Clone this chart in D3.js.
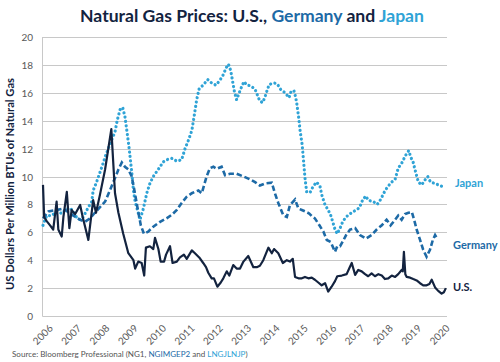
<!DOCTYPE html>
<html>
<head>
<meta charset="utf-8">
<script src="https://cdn.jsdelivr.net/npm/d3@7"></script>
<style>
  html, body { margin: 0; padding: 0; background: #fff; }
  svg { display: block; }
  text { font-family: Lato, "Noto Sans", sans-serif; }
</style>
</head>
<body>
<svg id="chart" width="500" height="362"></svg>
<script>
// ---------- DATA (year fraction, US$ per MMBtu) ----------
const yearTicks = [2006,2007,2008,2009,2010,2011,2012,2013,2014,2015,2016,2017,2018,2019,2020];
const yTicks = [0,2,4,6,8,10,12,14,16,18,20];

const usData = [
 [2006.00,9.4],[2006.04,7.1],[2006.13,6.8],[2006.25,6.5],[2006.36,6.2],[2006.48,8.2],[2006.54,6.2],
 [2006.66,5.7],[2006.72,7.1],[2006.84,8.9],[2006.93,6.3],[2007.01,7.6],[2007.13,7.3],[2007.31,7.96],
 [2007.40,7.1],[2007.60,5.45],[2007.77,8.3],[2007.87,7.4],[2008.01,8.7],[2008.19,10.5],[2008.41,13.4],
 [2008.54,8.8],[2008.66,7.4],[2008.83,5.9],[2009.01,4.5],[2009.19,4.0],[2009.25,3.4],[2009.36,3.9],
 [2009.48,3.8],[2009.57,2.9],[2009.63,4.9],[2009.77,5.0],[2009.89,4.8],[2009.95,5.6],[2010.07,4.8],
 [2010.15,3.9],[2010.27,3.9],[2010.34,4.4],[2010.48,5.0],[2010.57,3.8],[2010.72,3.9],[2010.83,4.2],
 [2010.97,4.4],[2011.07,4.1],[2011.25,4.7],[2011.36,4.5],[2011.51,4.2],[2011.65,3.8],[2011.75,3.5],
 [2011.83,3.1],[2011.95,2.7],[2012.03,2.7],[2012.15,2.1],[2012.27,2.4],[2012.36,2.7],[2012.48,3.2],
 [2012.57,2.9],[2012.71,3.65],[2012.83,3.4],[2012.95,3.4],[2013.07,3.9],[2013.24,4.3],[2013.42,3.5],
 [2013.54,3.5],[2013.65,3.6],[2013.77,4.0],[2013.95,4.9],[2014.07,4.5],[2014.15,4.8],[2014.30,4.5],
 [2014.46,3.8],[2014.60,4.0],[2014.71,3.9],[2014.81,4.1],[2014.89,2.8],[2015.01,2.7],[2015.13,2.7],
 [2015.24,2.8],[2015.36,2.7],[2015.48,2.75],[2015.59,2.6],[2015.71,2.4],[2015.83,2.2],[2015.95,2.35],
 [2016.06,1.75],[2016.18,2.1],[2016.30,2.5],[2016.38,2.85],[2016.54,2.9],[2016.71,3.0],[2016.80,3.4],
 [2016.89,3.8],[2017.01,2.95],[2017.12,3.3],[2017.24,3.2],[2017.36,3.0],[2017.47,2.85],[2017.59,3.05],
 [2017.71,2.85],[2017.83,3.0],[2017.95,2.9],[2018.06,2.65],[2018.18,2.7],[2018.30,2.9],[2018.42,2.8],
 [2018.53,3.0],[2018.65,3.3],[2018.69,3.2],[2018.73,4.6],[2018.78,3.0],[2018.83,2.8],[2018.95,2.75],
 [2019.06,2.65],[2019.18,2.55],[2019.30,2.35],[2019.41,2.2],[2019.53,2.2],[2019.63,2.3],[2019.71,2.6],
 [2019.83,2.05],[2019.94,1.8],[2020.06,1.6],[2020.14,1.7],[2020.21,2.0]
];

const germanyData = [
 [2006.00,7.0],[2006.19,7.5],[2006.48,7.6],[2006.72,7.7],[2006.89,7.45],[2007.07,7.2],[2007.31,6.9],
 [2007.48,6.75],[2007.66,7.0],[2007.83,7.4],[2008.01,7.8],[2008.19,8.2],[2008.36,9.0],[2008.54,9.9],
 [2008.66,10.5],[2008.78,11.0],[2008.89,10.7],[2009.01,10.5],[2009.13,10.0],[2009.21,9.15],[2009.33,7.8],
 [2009.45,6.5],[2009.56,5.9],[2009.71,6.05],[2009.89,6.4],[2010.13,6.75],[2010.36,7.0],[2010.54,7.25],
 [2010.72,7.6],[2010.89,8.1],[2011.07,8.55],[2011.25,8.8],[2011.36,8.9],[2011.48,9.0],[2011.60,8.8],
 [2011.65,9.15],[2011.77,10.0],[2011.89,10.6],[2012.01,10.7],[2012.13,10.55],[2012.30,10.7],[2012.42,10.1],
 [2012.60,10.2],[2012.83,10.2],[2013.07,10.0],[2013.30,9.8],[2013.48,9.6],[2013.65,9.35],[2013.83,9.5],
 [2014.07,9.55],[2014.18,8.8],[2014.30,8.1],[2014.48,7.2],[2014.60,7.1],[2014.71,7.95],[2014.89,8.35],
 [2015.01,7.7],[2015.13,7.6],[2015.24,7.5],[2015.39,7.35],[2015.51,7.1],[2015.59,7.0],[2015.75,6.5],
 [2015.89,6.05],[2016.01,5.45],[2016.15,5.3],[2016.30,4.6],[2016.38,5.0],[2016.48,5.0],[2016.59,5.4],
 [2016.69,5.8],[2016.83,6.2],[2017.01,6.3],[2017.18,5.8],[2017.39,5.55],[2017.59,5.8],[2017.77,6.2],
 [2017.95,6.5],[2018.12,6.9],[2018.26,6.5],[2018.42,6.9],[2018.53,7.2],[2018.65,6.9],[2018.77,7.3],
 [2018.89,7.4],[2019.01,7.45],[2019.09,6.9],[2019.18,6.2],[2019.30,5.45],[2019.41,4.75],[2019.53,4.25],
 [2019.65,4.75],[2019.75,5.45],[2019.83,5.8],[2019.89,5.6]
];

const japanData = [
 [2006.00,6.5],[2006.13,7.2],[2006.31,7.2],[2006.48,7.5],[2006.66,7.35],[2006.78,7.6],[2006.95,7.75],
 [2007.07,7.5],[2007.19,7.05],[2007.31,6.9],[2007.42,7.1],[2007.60,7.8],[2007.72,8.2],[2007.77,9.0],
 [2007.89,9.6],[2008.01,10.3],[2008.13,11.0],[2008.19,11.4],[2008.36,12.3],[2008.54,13.2],[2008.62,14.05],
 [2008.72,14.8],[2008.81,14.95],[2008.89,14.3],[2008.97,13.1],[2009.04,12.0],[2009.13,10.3],[2009.19,9.0],
 [2009.25,8.2],[2009.36,7.4],[2009.42,6.9],[2009.54,7.7],[2009.66,8.8],[2009.77,9.5],[2009.89,10.0],
 [2010.01,10.35],[2010.13,10.7],[2010.24,11.05],[2010.36,11.2],[2010.54,11.3],[2010.72,11.1],[2010.89,11.2],
 [2011.01,12.0],[2011.13,12.6],[2011.25,13.3],[2011.33,14.3],[2011.42,15.5],[2011.51,16.3],[2011.65,16.55],
 [2011.81,16.95],[2011.95,16.7],[2012.10,16.55],[2012.24,16.9],[2012.36,17.3],[2012.46,17.8],[2012.54,18.05],
 [2012.62,17.6],[2012.69,16.8],[2012.75,16.1],[2012.83,15.5],[2012.92,16.0],[2013.01,16.45],[2013.09,16.8],
 [2013.20,16.55],[2013.33,16.5],[2013.48,16.25],[2013.56,15.85],[2013.65,15.4],[2013.75,15.3],[2013.83,15.7],
 [2013.91,16.2],[2013.98,16.6],[2014.15,16.7],[2014.26,16.65],[2014.38,16.25],[2014.54,16.0],[2014.68,15.65],
 [2014.75,16.1],[2014.85,16.15],[2014.91,15.7],[2014.95,15.25],[2015.02,14.2],[2015.07,13.25],[2015.14,12.3],
 [2015.18,11.35],[2015.24,9.9],[2015.30,8.9],[2015.42,8.85],[2015.53,9.3],[2015.65,9.6],[2015.77,9.3],
 [2015.83,8.7],[2015.95,7.95],[2016.06,7.6],[2016.15,7.2],[2016.22,6.75],[2016.30,6.2],[2016.38,5.9],
 [2016.48,6.3],[2016.57,6.75],[2016.69,7.1],[2016.85,7.35],[2017.04,7.6],[2017.16,7.75],[2017.28,8.35],
 [2017.39,8.6],[2017.47,8.3],[2017.65,8.2],[2017.79,8.0],[2017.91,8.35],[2018.03,8.85],[2018.15,9.25],
 [2018.30,9.6],[2018.42,9.8],[2018.53,10.6],[2018.65,10.95],[2018.71,11.2],[2018.80,11.55],[2018.90,11.85],
 [2018.97,11.4],[2019.06,11.0],[2019.12,10.5],[2019.18,10.05],[2019.24,9.6],[2019.36,9.4],[2019.47,9.75],
 [2019.57,10.0],[2019.67,9.6],[2019.83,9.5],[2019.94,9.4],[2020.06,9.3]
];

const seriesNames = ["Japan", "Germany", "U.S."];

// ---------- STYLE ----------
const navy = "#13233f", germanyBlue = "#1d6aa6", japanBlue = "#2fa3d6";
const gridColor = "#c8c8c8", tickColor = "#595959";

const svg = d3.select("#chart");
const x = d3.scaleLinear().domain([2006, 2020.25]).range([43, 447]);
const y = d3.scaleLinear().domain([0, 20]).range([316, 37]);

// grid
svg.append("g").selectAll("line").data(yTicks).join("line")
  .attr("x1", 42.5).attr("x2", 447)
  .attr("y1", d => Math.round(y(d)) + 0.5).attr("y2", d => Math.round(y(d)) + 0.5)
  .attr("stroke", gridColor).attr("stroke-width", 1);
svg.append("line").attr("x1", 42.5).attr("x2", 42.5).attr("y1", y(20)).attr("y2", Math.round(y(0)) + 0.5)
  .attr("stroke", gridColor).attr("stroke-width", 1);

// y tick labels
const yAxis = d3.axisLeft(y).tickValues(yTicks).tickSize(0).tickPadding(0);
const gy = svg.append("g").attr("transform", "translate(33,0)").call(yAxis);
gy.select(".domain").remove();
gy.selectAll("text").attr("fill", tickColor).style("font-size", "10px").attr("dy", "0.35em");

// x tick labels
const xAxis = d3.axisBottom(x).tickValues(yearTicks).tickSize(0).tickFormat(d3.format("d"));
const gx = svg.append("g").attr("transform", "translate(0,316)").call(xAxis);
gx.select(".domain").remove();
gx.selectAll("text")
  .attr("fill", tickColor).style("font-size", "10px")
  .attr("text-anchor", "end")
  .attr("transform", "translate(10,13) rotate(-45)")
  .attr("y", 0).attr("dy", 0);

// lines
const line = d3.line().x(d => x(d[0])).y(d => y(d[1])).curve(d3.curveLinear);

svg.append("path").datum(japanData).attr("d", line)
  .attr("fill", "none").attr("stroke", japanBlue).attr("stroke-width", 3.2)
  .attr("stroke-linecap", "round").attr("stroke-dasharray", "0.01 4.4");
svg.append("path").datum(germanyData).attr("d", line)
  .attr("fill", "none").attr("stroke", germanyBlue).attr("stroke-width", 2.6)
  .attr("stroke-dasharray", "5.5 2.8");
svg.append("path").datum(usData).attr("d", line)
  .attr("fill", "none").attr("stroke", navy).attr("stroke-width", 2.2)
  .attr("stroke-linejoin", "round");

// series labels
const labelData = [
  {name: seriesNames[0], x: 455, y: 187, c: japanBlue},
  {name: seriesNames[1], x: 453, y: 249, c: germanyBlue},
  {name: seriesNames[2], x: 453, y: 291, c: navy}
];
svg.append("g").selectAll("text").data(labelData).join("text")
  .attr("x", d => d.x).attr("y", d => d.y).attr("fill", d => d.c)
  .style("font-size", "11px").style("font-weight", "700").text(d => d.name);

// title
const title = svg.append("text").attr("x", 252).attr("y", 22).attr("text-anchor", "middle")
  .style("font-weight", "700").style("font-size", "17px");
[["Natural Gas Prices: U.S., ", navy], ["Germany", germanyBlue], [" and ", navy], ["Japan", japanBlue]]
  .forEach(([t, c]) => title.append("tspan").attr("fill", c).text(t));
(function fit(el, w) {
  const len = el.node().getComputedTextLength();
  const fs = parseFloat(el.style("font-size"));
  el.style("font-size", (fs * w / len).toFixed(2) + "px");
})(title, 344);

// y axis title
const yt = svg.append("text").attr("transform", "translate(14,184) rotate(-90)")
  .attr("text-anchor", "middle").attr("fill", navy)
  .style("font-size", "10.5px").style("font-weight", "700")
  .text("US Dollars Per Million BTUs of Natural Gas");
(function fit(el, w) {
  const len = el.node().getComputedTextLength();
  const fs = parseFloat(el.style("font-size"));
  el.style("font-size", (fs * w / len).toFixed(2) + "px");
})(yt, 212);

// source
const src = svg.append("text").attr("x", 12).attr("y", 357).style("font-size", "8.5px").attr("fill", "#555");
[["Source: Bloomberg Professional (NG1, ", "#555"], ["NGIMGEP2", germanyBlue], [" and ", "#555"], ["LNGJLNJP", japanBlue], [")", "#555"]]
  .forEach(([t, c]) => src.append("tspan").attr("fill", c).text(t));
(function fit(el, w) {
  const len = el.node().getComputedTextLength();
  const fs = parseFloat(el.style("font-size"));
  el.style("font-size", (fs * w / len).toFixed(2) + "px");
})(src, 236);
</script>
</body>
</html>
